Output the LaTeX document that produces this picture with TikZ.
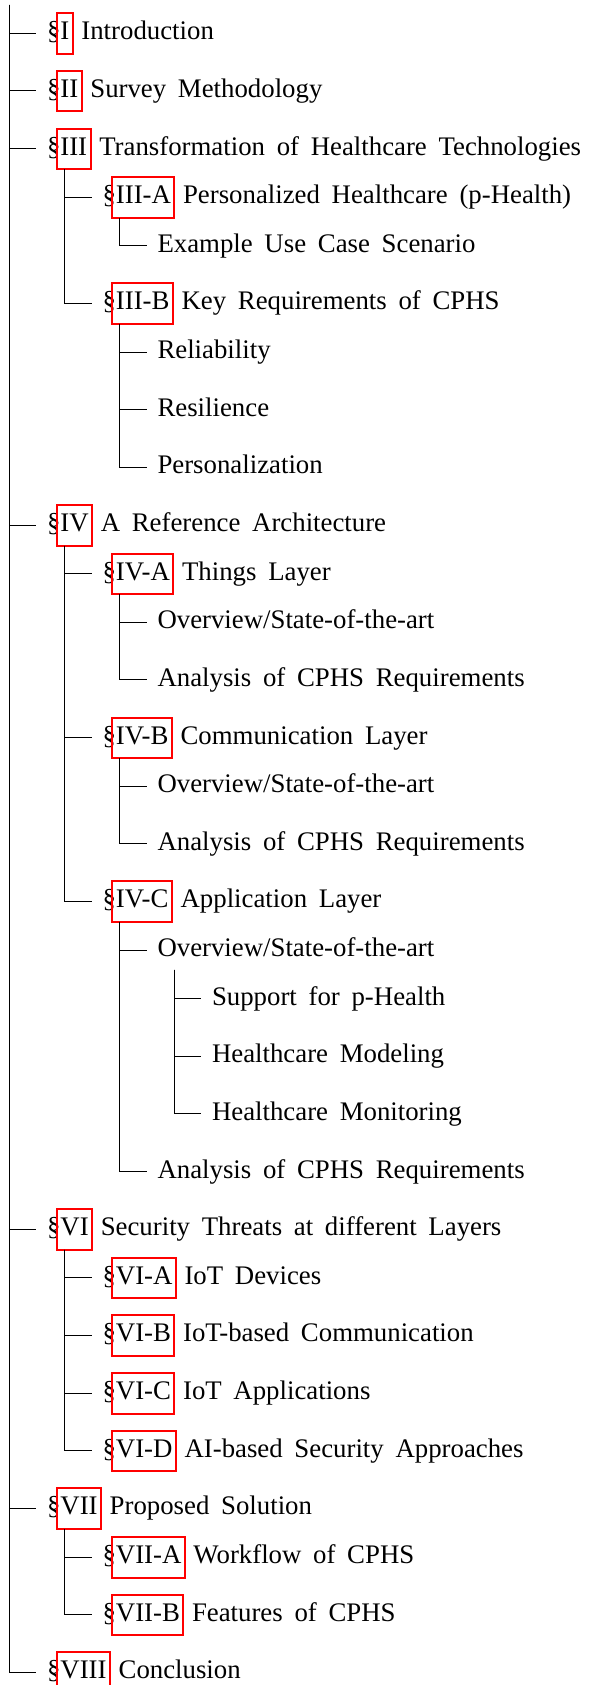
\documentclass[tikz,border=0pt]{standalone}
\usepackage{fontspec}
\setmainfont{Liberation Serif}[WordSpace=1.75]
\newcommand\rowfont{\fontsize{26.8pt}{31pt}\selectfont}

\tikzset{
  txt/.style={inner sep=0pt, outer sep=0pt, text height=19.5pt, text depth=6.5pt,
              anchor=base west, font=\rowfont},
  numbox/.style={draw=red, line width=2pt, inner xsep=3.5pt, inner ysep=0pt, outer sep=0pt,
                 text height=26.5pt, text depth=14pt, anchor=base west, font=\rowfont},
  link/.style={line width=1pt, black},
}

% a numbered section row: § + framed number + title (y is the row's axis)
\newcommand\secrow[5]{%
  \node[txt] (s#1) at (#2,{#3+6.5}) {§};
  \node[numbox] (n#1) at ([xshift=-3.5pt]s#1.base east) {#4};
  \node[txt] (t#1) at ([xshift=8.6pt]n#1.base east) {#5};
}
% an unnumbered row
\newcommand\plainrow[4]{\node[txt] (t#1) at (#2,{#3+6.5}) {#4};}

\begin{document}
\begin{tikzpicture}[x=1pt, y=-1pt]
  \useasboundingbox (0,0) rectangle (589,1685);

  \coordinate (root) at (9.5,5);

  \secrow{1}{47}{33.3}{I}{Introduction}
  \secrow{2}{47}{90.95}{II}{Survey Methodology}
  \secrow{3}{47}{148.6}{III}{Transformation of Healthcare Technologies}
  \secrow{4}{102.5}{197.2}{III-A}{Personalized Healthcare (p-Health)}
  \plainrow{5}{157.5}{245.8}{Example Use Case Scenario}
  \secrow{6}{102.5}{303.45}{III-B}{Key Requirements of CPHS}
  \plainrow{7}{157.5}{352.05}{Reliability}
  \plainrow{8}{157.5}{409.7}{Resilience}
  \plainrow{9}{157.5}{467.35}{Personalization}
  \secrow{10}{47}{525.0}{IV}{A Reference Architecture}
  \secrow{11}{102.5}{573.6}{IV-A}{Things Layer}
  \plainrow{12}{157.5}{622.2}{Overview/State-of-the-art}
  \plainrow{13}{157.5}{679.85}{Analysis of CPHS Requirements}
  \secrow{14}{102.5}{737.5}{IV-B}{Communication Layer}
  \plainrow{15}{157.5}{786.1}{Overview/State-of-the-art}
  \plainrow{16}{157.5}{843.75}{Analysis of CPHS Requirements}
  \secrow{17}{102.5}{901.4}{IV-C}{Application Layer}
  \plainrow{18}{157.5}{950.0}{Overview/State-of-the-art}
  \plainrow{19}{212}{998.6}{Support for p-Health}
  \plainrow{20}{212}{1056.25}{Healthcare Modeling}
  \plainrow{21}{212}{1113.9}{Healthcare Monitoring}
  \plainrow{22}{157.5}{1171.55}{Analysis of CPHS Requirements}
  \secrow{23}{47}{1229.2}{VI}{Security Threats at different Layers}
  \secrow{24}{102.5}{1277.8}{VI-A}{IoT Devices}
  \secrow{25}{102.5}{1335.45}{VI-B}{IoT-based Communication}
  \secrow{26}{102.5}{1393.1}{VI-C}{IoT Applications}
  \secrow{27}{102.5}{1450.75}{VI-D}{AI-based Security Approaches}
  \secrow{28}{47}{1508.4}{VII}{Proposed Solution}
  \secrow{29}{102.5}{1557.0}{VII-A}{Workflow of CPHS}
  \secrow{30}{102.5}{1614.65}{VII-B}{Features of CPHS}
  \secrow{31}{47}{1672.3}{VIII}{Conclusion}

  % top level
  \foreach \k in {1,2,3,10,23,28,31}
    \draw[link] (root) |- ([xshift=-11pt]s\k.west);

  % second level
  \foreach \k in {4,6}
    \draw[link] ([xshift=7.5pt]n3.south west) |- ([xshift=-11pt]s\k.west);
  \foreach \k in {11,14,17}
    \draw[link] ([xshift=7.5pt]n10.south west) |- ([xshift=-11pt]s\k.west);
  \foreach \k in {24,25,26,27}
    \draw[link] ([xshift=7.5pt]n23.south west) |- ([xshift=-11pt]s\k.west);
  \foreach \k in {29,30}
    \draw[link] ([xshift=7.5pt]n28.south west) |- ([xshift=-11pt]s\k.west);

  % third level
  \draw[link] ([xshift=7.5pt]n4.south west) |- ([xshift=-11pt]t5.west);
  \foreach \k in {7,8,9}
    \draw[link] ([xshift=7.5pt]n6.south west) |- ([xshift=-11pt]t\k.west);
  \foreach \k in {12,13}
    \draw[link] ([xshift=7.5pt]n11.south west) |- ([xshift=-11pt]t\k.west);
  \foreach \k in {15,16}
    \draw[link] ([xshift=7.5pt]n14.south west) |- ([xshift=-11pt]t\k.west);
  \foreach \k in {18,22}
    \draw[link] ([xshift=7.5pt]n17.south west) |- ([xshift=-11pt]t\k.west);

  % fourth level
  \foreach \k in {19,20,21}
    \draw[link] ([xshift=17pt,yshift=-6.5pt]t18.south west) |- ([xshift=-11pt]t\k.west);
\end{tikzpicture}
\end{document}
